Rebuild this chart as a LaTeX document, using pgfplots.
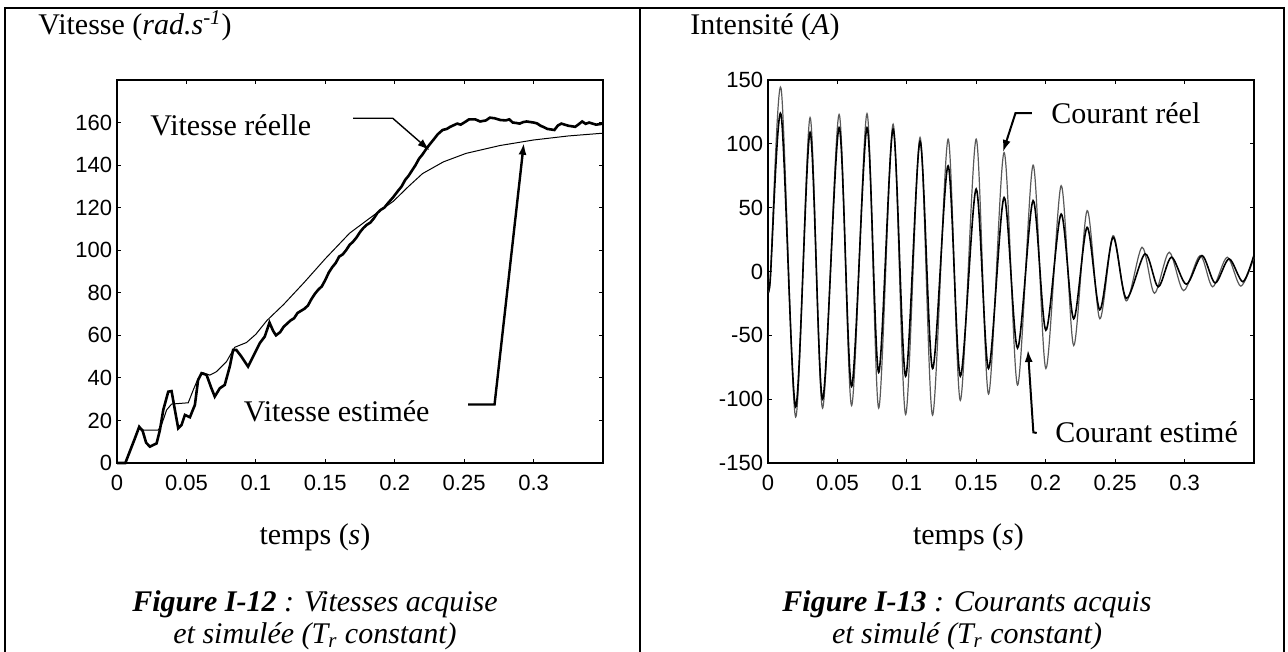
\documentclass[border=0pt]{standalone}
\usepackage{fontspec}
\setmainfont{Liberation Serif}
\setsansfont{Liberation Sans}
\usepackage{pgfplots}
\pgfplotsset{compat=1.18}
\usetikzlibrary{arrows.meta}

\pgfplotstableread{
t v
0 0
0.006 0
0.0129 11.6
0.016 17
0.0185 15
0.021 9.5
0.0237 7.7
0.0285 9.2
0.0309 15.5
0.0333 24.9
0.0369 33.5
0.0393 33.8
0.0417 24.9
0.0441 16.3
0.0465 17.9
0.0489 22.6
0.0525 21.5
0.0561 27.3
0.0584 39
0.0609 42.2
0.0645 41.4
0.068 35.1
0.0704 31.2
0.074 35.1
0.0776 36.7
0.0812 45.3
0.0836 53.1
0.086 53.1
0.0896 50
0.0944 45.3
0.098 50
0.1028 56.3
0.1064 59.4
0.1098 66
0.1125 62
0.1145 60
0.1175 61.5
0.12 64
0.1225 65.5
0.125 67
0.1275 68
0.13 70.5
0.1325 71.5
0.135 72.5
0.1375 74
0.14 77
0.1425 79.5
0.145 81.5
0.1475 83
0.15 86
0.1525 89.5
0.155 92
0.1575 94
0.16 97
0.1625 98
0.165 100
0.1675 102.5
0.17 104
0.1725 106
0.175 108.5
0.1775 110.5
0.18 112
0.1825 113
0.185 115
0.1875 117.5
0.19 119
0.1925 120
0.195 122
0.199 125
0.2025 128
0.205 130
0.2075 133
0.21 135
0.2125 137.5
0.215 140
0.2175 143
0.22 145
0.2226 147.5
0.2255 150
0.228 152
0.231 154.5
0.2345 156.5
0.2375 157
0.24 158
0.245 159.5
0.2475 159
0.251 160.4
0.2535 161.5
0.258 161.5
0.2615 160.5
0.2657 161
0.2685 162.3
0.272 162
0.276 161.2
0.28 161
0.2825 161.5
0.285 160
0.2875 159.8
0.29 159.5
0.2925 160.2
0.295 160.5
0.30 160
0.3025 159.6
0.305 158.5
0.3075 157.8
0.31 157
0.315 156.5
0.3175 158.6
0.32 159.5
0.325 158.5
0.33 158
0.3325 159.2
0.335 160.5
0.3375 159.4
0.34 160
0.345 159
0.35 159.5
}\vreelle

\pgfplotstableread{
t v
0 0
0.006 0
0.0129 11.6
0.016 17
0.019 15.5
0.0297 15.5
0.0321 17.9
0.0357 24.9
0.0393 27.7
0.0513 28.3
0.0549 34.3
0.0584 39.7
0.062 42.4
0.0668 41.3
0.0716 42.9
0.0788 47.6
0.0848 54.4
0.0932 56.6
0.1 60.5
0.108 67
0.12 74.5
0.135 85
0.15 96
0.1675 108
0.185 116.5
0.199 123
0.21 130
0.22 136
0.235 141.5
0.2513 145.5
0.2758 149.2
0.3 151.8
0.325 153.7
0.35 155
}\vestimee

\pgfplotstableread{
t i
0 -2
0.0015 -8
0.0094 143.5
0.0199 -114
0.0303 120.6
0.0393 -107
0.0512 123
0.0602 -105
0.0713 123.7
0.0797 -107
0.0901 115.4
0.0991 -112
0.1095 105
0.1185 -112.5
0.1297 103.7
0.1385 -101
0.1499 103.7
0.1588 -96
0.1700 93.2
0.1797 -89
0.1909 83.3
0.2001 -76
0.2111 67.2
0.2201 -58
0.2298 47.7
0.2389 -37
0.2485 28.1
0.258 -23
0.2694 19
0.2783 -17
0.2889 15.1
0.2993 -15
0.3112 12.5
0.3202 -12
0.3307 11.2
0.3405 -11.5
0.35 11
}\ireel

\pgfplotstableread{
t i
0 -2
0.0015 -8
0.0094 123
0.0199 -106
0.0303 109
0.0393 -100
0.0512 112.7
0.0602 -90
0.0713 112.7
0.0797 -79
0.0901 111.5
0.0991 -82
0.1095 102
0.1185 -76
0.1297 82.8
0.1385 -82
0.1499 64.6
0.1588 -76
0.1700 58
0.1797 -60
0.1909 55.5
0.2001 -46
0.2111 45
0.2201 -37
0.2298 34.6
0.2389 -30
0.2485 26.8
0.258 -21
0.2715 13.8
0.281 -12
0.2905 11.2
0.3013 -10
0.3125 12.5
0.322 -9
0.332 9.9
0.342 -8
0.35 13
}\iestime

\pgfplotsset{
  mystyle/.style={
    scale only axis, width=243pt, height=191.5pt,
    xmin=0, xmax=0.35,
    xtick={0,0.05,0.1,0.15,0.2,0.25,0.3},
    xticklabels={0,0.05,0.1,0.15,0.2,0.25,0.3},
    tick align=inside, major tick length=2pt,
    axis line style={line width=0.8pt},
    every tick/.style={line width=0.6pt, black},
    ticklabel style={font=\sffamily\fontsize{11}{11}\selectfont},
    xticklabel style={inner sep=0pt, yshift=-6pt},
    yticklabel style={inner sep=0pt, xshift=-2.3pt},
    clip=false,
  }
}
\newcommand{\bigtxt}{\fontsize{15}{15}\selectfont}

\begin{document}
\begin{tikzpicture}
\useasboundingbox (0,0) rectangle (644pt,326pt);
\draw[line width=1pt] (2.5pt,0) -- (2.5pt,322pt) -- (642pt,322pt) -- (642pt,0);
\draw[line width=1pt] (320pt,0) -- (320pt,322pt);

% titles
\node[anchor=base west, inner sep=0pt, font=\bigtxt] at (19pt,308.5pt) {Vitesse (\textit{rad.s}\textsuperscript{\textit{-1}})};
\node[anchor=base west, inner sep=0pt, font=\bigtxt] at (345pt,308.5pt) {Intensité (\textit{A})};

% x labels
\node[anchor=base, inner sep=0pt, font=\bigtxt] at (157.5pt,53.5pt) {temps (\textit{s})};
\node[anchor=base, inner sep=0pt, font=\bigtxt] at (484.2pt,53.5pt) {temps (\textit{s})};

% captions
\node[anchor=base, inner sep=0pt, font=\bigtxt] at (157.5pt,20pt) {\textbf{\textit{Figure I-12}}\textit{ : Vitesses acquise}};
\node[anchor=base, inner sep=0pt, font=\bigtxt] at (157.5pt,4.5pt) {\textit{et simulée (T\textsubscript{r} constant)}};
\node[anchor=base, inner sep=0pt, font=\bigtxt] at (483.5pt,20pt) {\textbf{\textit{Figure I-13}}\textit{ : Courants acquis}};
\node[anchor=base, inner sep=0pt, font=\bigtxt] at (483.5pt,4.5pt) {\textit{et simulé (T\textsubscript{r} constant)}};

\begin{axis}[mystyle, at={(58.5pt,94.5pt)}, anchor=south west,
  ymin=0, ymax=180, ytick={0,20,40,60,80,100,120,140,160},
  yticklabels={0,20,40,60,80,100,120,140,160}]
\addplot[black, line width=0.5pt] table[x=t,y=v] {\vestimee};
\addplot[black, line width=1.3pt] table[x=t,y=v] {\vreelle};
\node[anchor=base west, inner sep=0pt, font=\bigtxt] at (axis cs:0.0238,154) {Vitesse réelle};
\draw[line width=0.7pt, -{Latex[length=6pt,width=4pt]}] (axis cs:0.170,162) -- (axis cs:0.1986,162) -- (axis cs:0.225,147);
\node[anchor=base west, inner sep=0pt, font=\bigtxt] at (axis cs:0.0911,19.4) {Vitesse estimée};
\draw[line width=1.2pt, -{Latex[length=6pt,width=4pt]}] (axis cs:0.2528,27.5) -- (axis cs:0.2719,27.5) -- (axis cs:0.293,150.5);
\end{axis}

\begin{axis}[mystyle, at={(384pt,94.5pt)}, anchor=south west,
  ymin=-150, ymax=150, ytick={-150,-100,-50,0,50,100,150},
  yticklabels={-150,-100,-50,0,50,100,150}]
\addplot[black!65, line width=0.6pt, smooth] table[x=t,y=i] {\ireel};
\addplot[black, line width=0.8pt, smooth] table[x=t,y=i] {\iestime};
\node[anchor=base west, inner sep=0pt, font=\bigtxt] at (axis cs:0.2037,116) {Courant réel};
\draw[line width=1pt, -{Latex[length=6pt,width=4pt]}] (axis cs:0.190,124) -- (axis cs:0.1782,124) -- (axis cs:0.1692,93.6);
\node[anchor=base west, inner sep=0pt, font=\bigtxt] at (axis cs:0.2067,-134) {Courant estimé};
\draw[line width=1pt, -{Latex[length=6pt,width=4pt]}] (axis cs:0.1935,-126.5) -- (axis cs:0.1911,-126) -- (axis cs:0.1872,-61.5);
\end{axis}
\end{tikzpicture}
\end{document}
